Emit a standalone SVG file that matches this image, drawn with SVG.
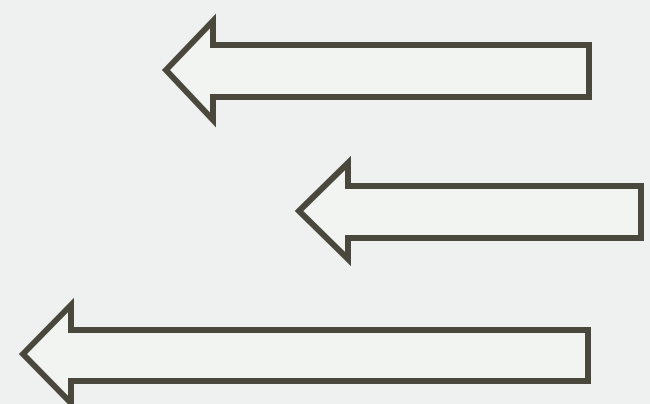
<svg xmlns="http://www.w3.org/2000/svg" width="650" height="404" viewBox="0 0 650 404">
<style>
.arrow{fill:#f2f4f2;stroke:#4a473c;stroke-width:6;stroke-linejoin:miter;stroke-miterlimit:10}
</style>
<rect width="650" height="404" fill="#eef1ef"/>
<g id="arrow1"><path class="arrow" d="M166,70 L213,21 L213,45 L589,45 L589,97 L213,97 L213,120 Z"/></g>
<g id="arrow2"><path class="arrow" d="M299,211 L348,163 L348,186 L641,186 L641,238 L348,238 L348,259 Z"/></g>
<g id="arrow3"><path class="arrow" d="M23,354 L71,305 L71,330 L588,330 L588,381 L71,381 L71,403 Z"/></g>
</svg>
